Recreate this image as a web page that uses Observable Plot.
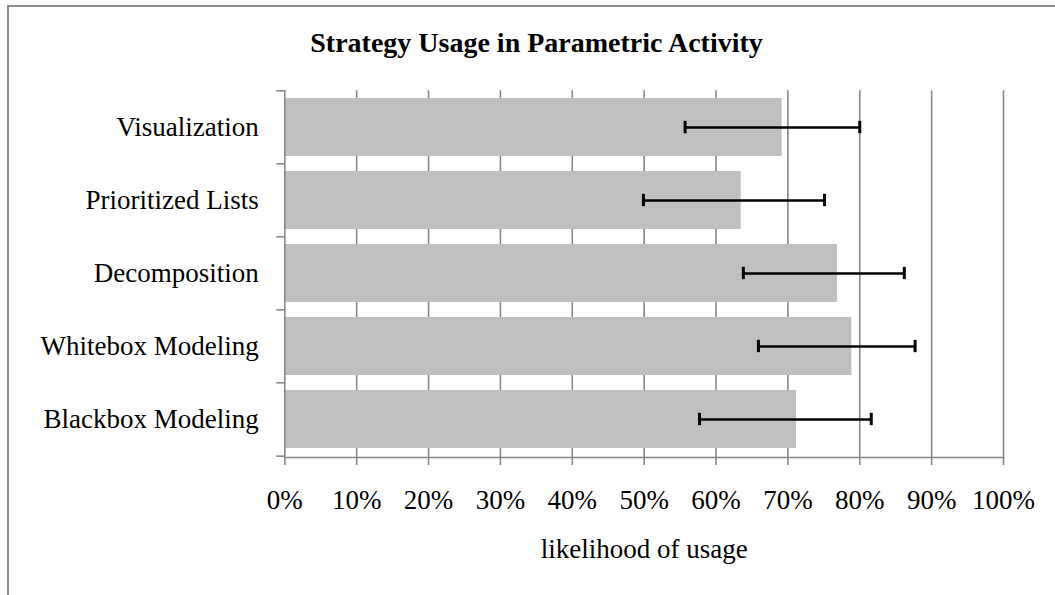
<!DOCTYPE html>
<html>
<head>
<meta charset="utf-8">
<script src="https://cdn.jsdelivr.net/npm/d3@7"></script>
<script src="https://cdn.jsdelivr.net/npm/@observablehq/plot@0.6"></script>
<style>
  html, body { margin: 0; padding: 0; background: white; width: 1055px; height: 595px; overflow: hidden; }
  #frame { position: absolute; left: 7px; top: 5px; width: 1200px; height: 700px;
           border-top: 2px solid #8c8c8c; border-left: 2px solid #8c8c8c; }
  #title { position: absolute; left: 10px; width: 1053px; top: 29px; text-align: center;
           font-family: "Liberation Serif", serif; font-weight: bold; font-size: 28px; line-height: 1; color: black; }
  #chart { position: absolute; left: 10px; top: 60px; }
</style>
</head>
<body>
<div id="frame"></div>
<div id="title">Strategy Usage in Parametric Activity</div>
<div id="chart"></div>
<script>
const categories = ["Visualization", "Prioritized Lists", "Decomposition", "Whitebox Modeling", "Blackbox Modeling"];
const values = [0.692, 0.635, 0.769, 0.789, 0.712];
const lows   = [0.557, 0.499, 0.638, 0.659, 0.577];
const highs  = [0.800, 0.751, 0.862, 0.877, 0.816];
const xTicks = [0, 0.1, 0.2, 0.3, 0.4, 0.5, 0.6, 0.7, 0.8, 0.9, 1.0];
const xLabel = "likelihood of usage";

const data = categories.map((c, i) => ({category: c, value: values[i], low: lows[i], high: highs[i]}));

const W = 1045, H = 535;
const mTop = 30.3, mBottom = 138, mLeft = 274.3, mRight = 52;
const step = (H - mTop - mBottom) / categories.length;
const bandwidth = step * 0.8;
const capH = 13;
const gray = "#888888";

const plot = Plot.plot({
  width: W,
  height: H,
  marginTop: mTop,
  marginBottom: mBottom,
  marginLeft: mLeft,
  marginRight: mRight,
  style: {fontFamily: "Liberation Serif", fontSize: "27px", color: "black", background: "transparent", overflow: "visible"},
  x: {domain: [0, 1]},
  y: {domain: categories, paddingInner: 0.2, paddingOuter: 0.1},
  marks: [
    Plot.gridX(xTicks.slice(1), {stroke: gray, strokeOpacity: 1, strokeWidth: 1.6}),
    Plot.barX(data, {y: "category", x: "value", fill: "#bfbfbf"}),
    Plot.frame({anchor: "left", stroke: gray, strokeWidth: 1.6}),
    Plot.frame({anchor: "bottom", stroke: gray, strokeWidth: 1.6}),
    Plot.axisX({ticks: xTicks, tickFormat: d3.format(".0%"), tickSize: 8, tickPadding: 24, stroke: gray, strokeWidth: 1.6,
                label: xLabel, labelAnchor: "center", labelArrow: "none", labelOffset: 100}),
    Plot.axisY({tickSize: 0, tickPadding: 26, label: null}),
    Plot.axisY({tickSize: 8, fill: "none", stroke: gray, strokeWidth: 1.6, dy: -step / 2, label: null}),
    Plot.axisY(categories.slice(-1), {tickSize: 8, fill: "none", stroke: gray, strokeWidth: 1.6, dy: step / 2, label: null}),
    Plot.ruleY(data, {y: "category", x1: "low", x2: "high", stroke: "black", strokeWidth: 2.4}),
    Plot.tickX(data, {y: "category", x: "low", stroke: "black", strokeWidth: 3, insetTop: (bandwidth - capH) / 2, insetBottom: (bandwidth - capH) / 2}),
    Plot.tickX(data, {y: "category", x: "high", stroke: "black", strokeWidth: 3, insetTop: (bandwidth - capH) / 2, insetBottom: (bandwidth - capH) / 2})
  ]
});
document.getElementById("chart").appendChild(plot);
</script>
</body>
</html>
